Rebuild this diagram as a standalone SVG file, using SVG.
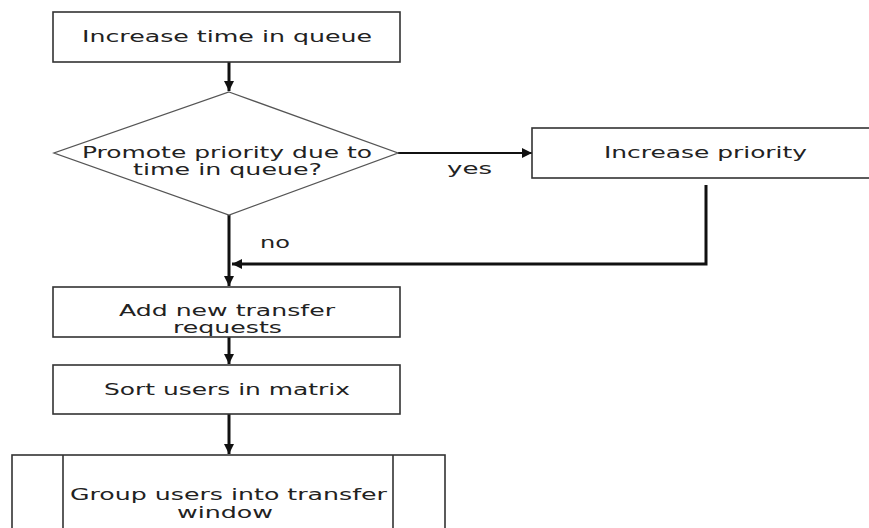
<svg xmlns="http://www.w3.org/2000/svg" width="869" height="528" viewBox="0 0 869 528">
<style>
.box{fill:#fff;stroke:#333;stroke-width:1.6}
.dia{fill:#fff;stroke:#555;stroke-width:1.3}
.t{font-family:"DejaVu Sans","Liberation Sans",sans-serif;font-size:15px;fill:#222}
.c{fill:none;stroke:#111;stroke-width:3}
.cy{fill:none;stroke:#111;stroke-width:2}
</style>
<defs>
<marker id="ah" viewBox="0 0 10 10" refX="10" refY="5" markerWidth="10" markerHeight="10" markerUnits="userSpaceOnUse" orient="auto">
<path d="M0,0 L10,5 L0,10 Z" fill="#111"/>
</marker>
</defs>
<rect width="869" height="528" fill="#fff"/>
<g id="connectors">
<path class="c" d="M229,62 V91" marker-end="url(#ah)"/>
<path class="cy" d="M398,153 H532" marker-end="url(#ah)"/>
<path class="c" d="M706,185 V264 H232" marker-end="url(#ah)"/>
<path class="c" d="M229,215 V286" marker-end="url(#ah)"/>
<path class="c" d="M229,337 V364" marker-end="url(#ah)"/>
<path class="c" d="M229,414 V454" marker-end="url(#ah)"/>
<text class="t" x="447" y="174" textLength="45" lengthAdjust="spacingAndGlyphs">yes</text>
<text class="t" x="260" y="248" textLength="30" lengthAdjust="spacingAndGlyphs">no</text>
</g>
<g id="n1">
<rect class="box" x="53" y="12" width="347" height="50"/>
<text class="t" x="82" y="42" textLength="290" lengthAdjust="spacingAndGlyphs">Increase time in queue</text>
</g>
<g id="n2">
<polygon class="dia" points="229,92 398,153 229,215 54,153"/>
<text class="t" x="82" y="158" textLength="290" lengthAdjust="spacingAndGlyphs">Promote priority due to</text>
<text class="t" x="133" y="175" textLength="189" lengthAdjust="spacingAndGlyphs">time in queue?</text>
</g>
<g id="n3">
<rect class="box" x="532" y="128" width="338" height="50"/>
<text class="t" x="604" y="158" textLength="203" lengthAdjust="spacingAndGlyphs">Increase priority</text>
</g>
<g id="n4">
<rect class="box" x="53" y="287" width="347" height="50"/>
<text class="t" x="119" y="316" textLength="216" lengthAdjust="spacingAndGlyphs">Add new transfer</text>
<text class="t" x="173" y="333" textLength="109" lengthAdjust="spacingAndGlyphs">requests</text>
</g>
<g id="n5">
<rect class="box" x="53" y="365" width="347" height="49"/>
<text class="t" x="104" y="395" textLength="246" lengthAdjust="spacingAndGlyphs">Sort users in matrix</text>
</g>
<g id="n6">
<rect class="box" x="12" y="455" width="433" height="90"/>
<line class="box" x1="63" y1="455" x2="63" y2="545"/>
<line class="box" x1="393" y1="455" x2="393" y2="545"/>
<text class="t" x="70" y="500" textLength="317" lengthAdjust="spacingAndGlyphs">Group users into transfer</text>
<text class="t" x="177" y="518" textLength="96" lengthAdjust="spacingAndGlyphs">window</text>
</g>
</svg>
